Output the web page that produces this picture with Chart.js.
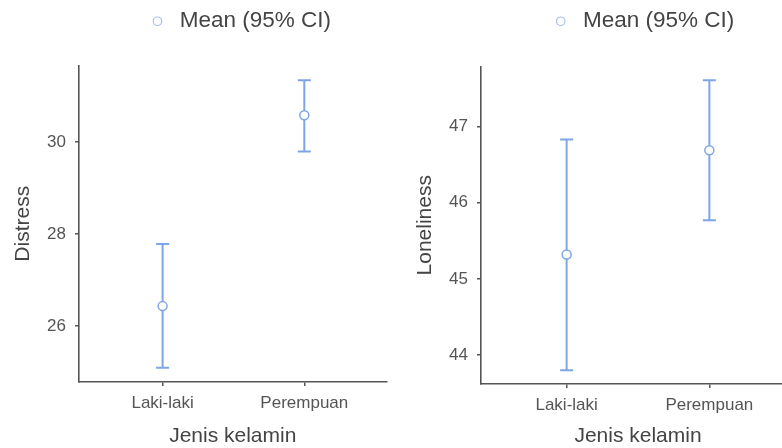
<!DOCTYPE html>
<html>
<head>
<meta charset="utf-8">
<script src="https://cdn.jsdelivr.net/npm/chart.js@4.4.1/dist/chart.umd.min.js"></script>
<style>
  html, body { margin: 0; padding: 0; background: #fff; overflow: hidden; }
  body { width: 782px; height: 448px; position: relative; }
  .panel { position: absolute; top: 0; height: 448px; }
  #leftPanel { left: 0; width: 395px; }
  #rightPanel { left: 395px; width: 420px; }
</style>
</head>
<body>
<div class="panel" id="leftPanel"><canvas id="distressChart"></canvas></div>
<div class="panel" id="rightPanel"><canvas id="lonelinessChart"></canvas></div>
<script>
const categories = ['Laki-laki', 'Perempuan'];

const distressMean = [26.43, 30.58];
const distressLower = [25.09, 29.79];
const distressUpper = [27.78, 31.34];
const distressTicks = [26, 28, 30];

const lonelinessMean = [45.32, 46.69];
const lonelinessLower = [43.80, 45.77];
const lonelinessUpper = [46.83, 47.61];
const lonelinessTicks = [44, 45, 46, 47];

const FONT = '"Liberation Sans", Arial, sans-serif';
const BAR_COLOR = '#7ea5e6';
const LEGEND_COLOR = '#a9bfea';

function buildDatasets(mean, lower, upper) {
  // one short vertical line per category for the CI, caps drawn with the 'line' point style
  const bars = categories.map((c, i) => ({
    label: '',
    type: 'line',
    data: [{ x: i + 1, y: lower[i] }, { x: i + 1, y: upper[i] }],
    borderColor: BAR_COLOR,
    borderWidth: 2,
    pointStyle: 'line',
    pointRadius: 6.5,
    pointBorderWidth: 2,
    pointBorderColor: BAR_COLOR,
    pointHoverRadius: 6.5,
    order: 1,
  }));
  const means = {
    label: 'Mean (95% CI)',
    type: 'line',
    showLine: false,
    data: categories.map((c, i) => ({ x: i + 1, y: mean[i] })),
    pointStyle: 'circle',
    pointRadius: 4.5,
    pointBackgroundColor: '#ffffff',
    pointBorderColor: BAR_COLOR,
    pointBorderWidth: 1.5,
    order: 0,
  };
  return [...bars, means];
}

// leaves extra room between the legend row and the plot, nudges it sideways
function legendGap(extra, dx) {
  return {
    id: 'legendGap',
    afterInit(chart) {
      const legend = chart.legend;
      const fit = legend.fit;
      legend.fit = function () {
        fit.call(this);
        this.height += extra;
      };
    },
    afterLayout(chart) {
      chart.legend.left += dx;
      chart.legend.right += dx;
    },
  };
}

function createChart(canvas, cfg) {
  return new Chart(canvas, {
    type: 'line',
    data: { datasets: buildDatasets(cfg.mean, cfg.lower, cfg.upper) },
    plugins: [legendGap(cfg.legendGap, cfg.legendShift)],
    options: {
      responsive: true,
      maintainAspectRatio: false,
      animation: false,
      layout: { padding: { top: cfg.padTop, right: cfg.padRight, left: 0, bottom: 0 } },
      plugins: {
        tooltip: { enabled: false },
        legend: {
          display: true,
          position: 'top',
          fullSize: false,
          labels: {
            usePointStyle: true,
            boxWidth: 22,
            boxHeight: 6,
            padding: 8,
            color: '#444',
            font: { family: FONT, size: 22.5 },
            filter: item => item.text !== '',
            generateLabels: chart => Chart.defaults.plugins.legend.labels.generateLabels(chart)
              .map(l => ({ ...l, fillStyle: '#ffffff', strokeStyle: LEGEND_COLOR, lineWidth: 1.2, pointStyle: 'circle' })),
          },
        },
      },
      scales: {
        x: {
          type: 'linear',
          min: cfg.xMin,
          max: cfg.xMax,
          afterBuildTicks: s => { s.ticks = categories.map((c, i) => ({ value: i + 1 })); },
          afterFit: s => { s.height = cfg.xAxisHeight; },
          ticks: {
            callback: v => categories[v - 1] || '',
            color: '#555',
            font: { family: FONT, size: 17 },
            padding: 7,
            maxRotation: 0,
          },
          grid: { display: true, drawOnChartArea: false, drawTicks: true, tickLength: 4, color: '#555', lineWidth: 1.5 },
          border: { display: true, color: '#555', width: 1.6 },
          title: { display: true, text: 'Jenis kelamin', color: '#444', font: { family: FONT, size: 21, lineHeight: 1.1 }, padding: { top: 0, bottom: 0 } },
        },
        y: {
          type: 'linear',
          min: cfg.yMin,
          max: cfg.yMax,
          afterBuildTicks: s => { s.ticks = cfg.ticks.map(v => ({ value: v })); },
          afterFit: s => { s.width = cfg.yAxisWidth; },
          ticks: {
            color: '#555',
            font: { family: FONT, size: 17 },
            padding: 9,
          },
          grid: { display: true, drawOnChartArea: false, drawTicks: true, tickLength: 4, color: '#555', lineWidth: 1.5 },
          border: { display: true, color: '#555', width: 1.6 },
          title: { display: true, text: cfg.yTitle, color: '#444', font: { family: FONT, size: 21 }, padding: { top: cfg.yTitlePad, bottom: 0 } },
        },
      },
    },
  });
}

createChart(document.getElementById('distressChart'), {
  mean: distressMean, lower: distressLower, upper: distressUpper, ticks: distressTicks,
  yTitle: 'Distress', yMin: 24.78, yMax: 31.66, xMin: 0.41, xMax: 2.58,
  yAxisWidth: 79, xAxisHeight: 66, yTitlePad: 11, padTop: 2, padRight: 5, legendGap: 23, legendShift: 6,
});

createChart(document.getElementById('lonelinessChart'), {
  mean: lonelinessMean, lower: lonelinessLower, upper: lonelinessUpper, ticks: lonelinessTicks,
  yTitle: 'Loneliness', yMin: 43.62, yMax: 47.79, xMin: 0.40, xMax: 2.60,
  yAxisWidth: 86, xAxisHeight: 64, yTitlePad: 18, padTop: 2, padRight: 20, legendGap: 24, legendShift: 4,
});
</script>
</body>
</html>
